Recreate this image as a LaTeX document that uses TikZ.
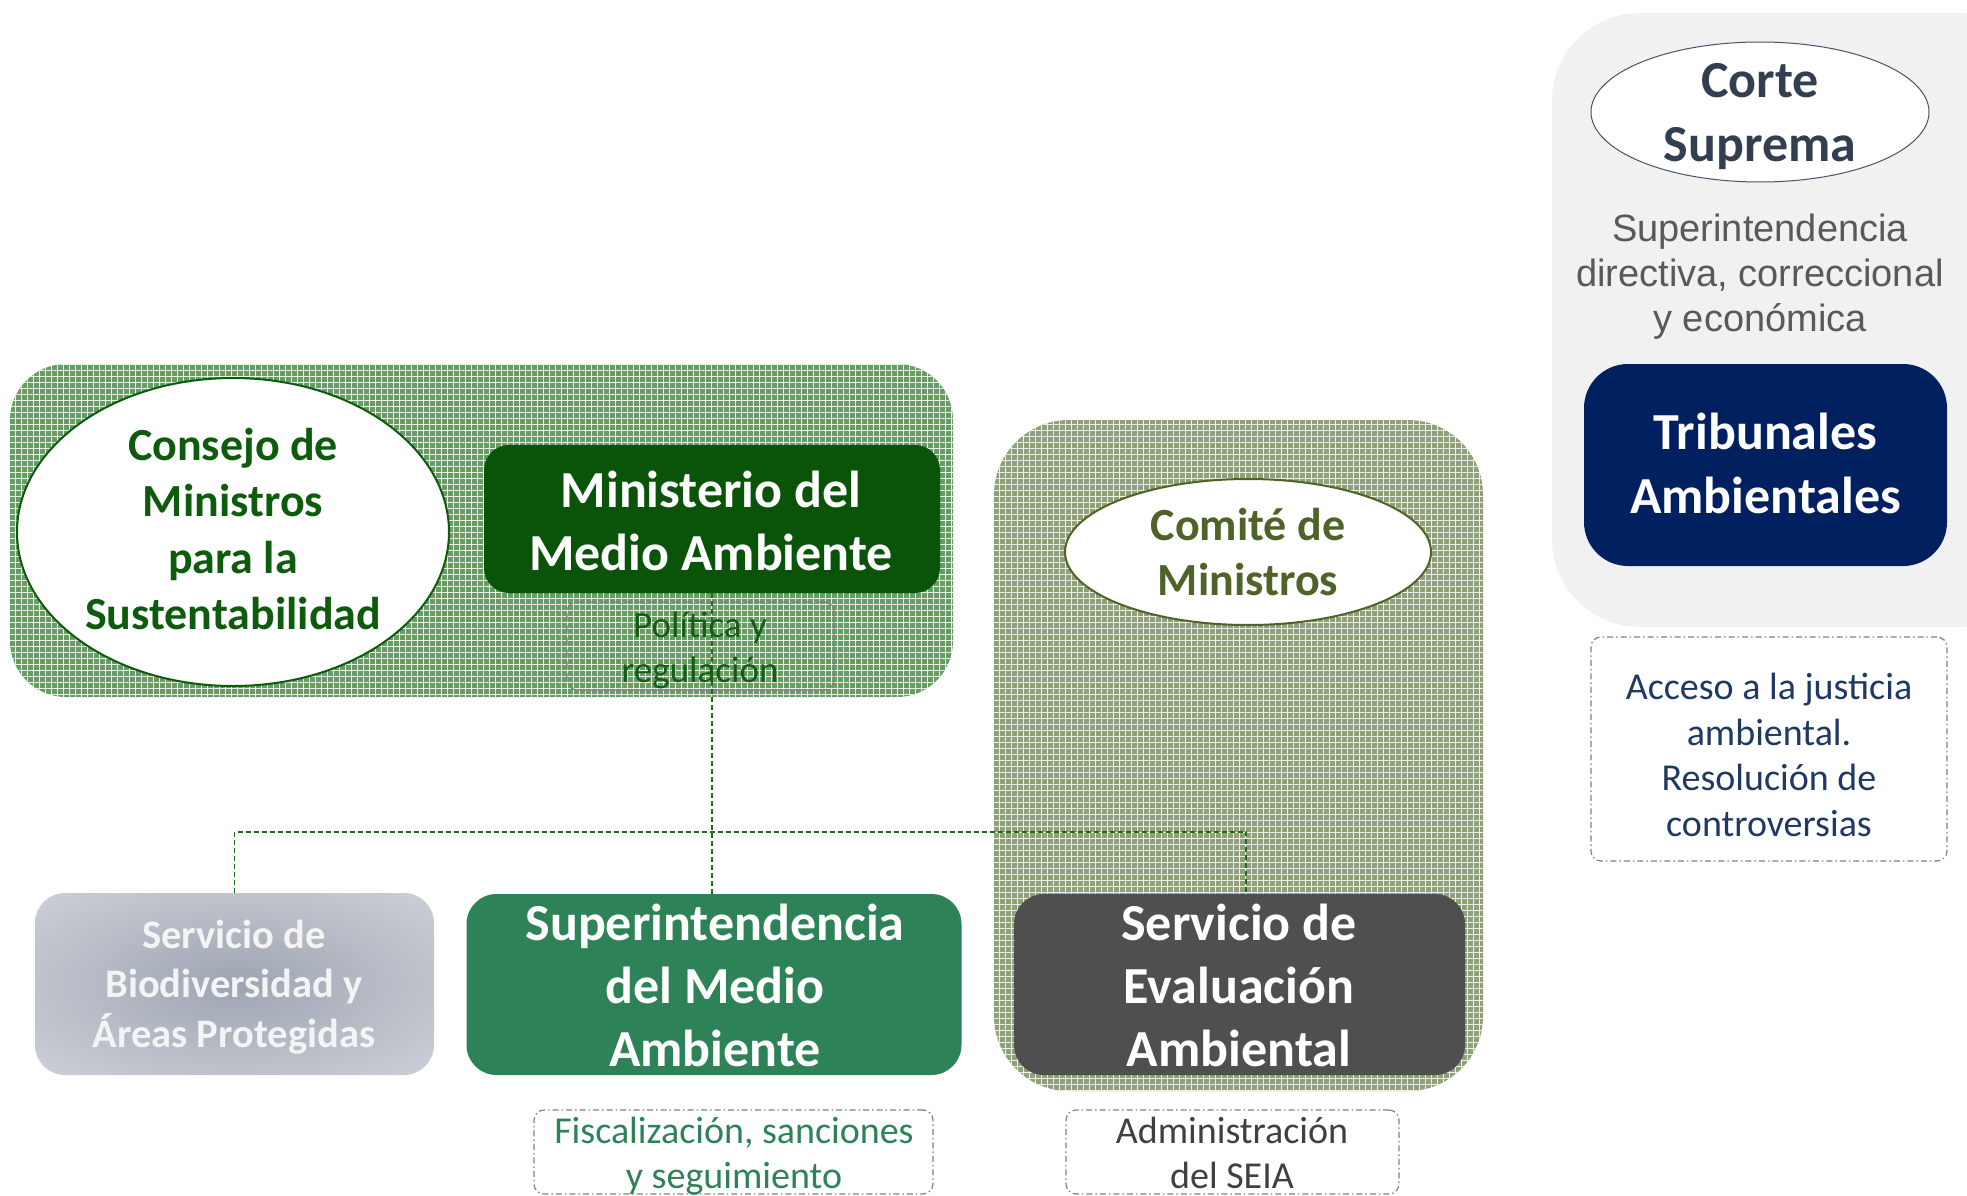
\documentclass[tikz,border=0pt]{standalone}
\usepackage{fontspec}
\setmainfont{Carlito}
\newfontfamily\arialf{Liberation Sans}
\usetikzlibrary{shapes.geometric,patterns.meta}
\definecolor{greenbase}{HTML}{679C67}
\definecolor{olivebase}{HTML}{8FA07B}
\definecolor{cortebg}{HTML}{F1F1F1}
\definecolor{consejoc}{HTML}{0D5C0D}
\definecolor{mingreen}{HTML}{0A540A}
\definecolor{polgreen}{HTML}{125E12}
\definecolor{olivec}{HTML}{4F6228}
\definecolor{cortec}{HTML}{333F50}
\definecolor{corteline}{HTML}{44546A}
\definecolor{greyc}{HTML}{595959}
\definecolor{navy}{HTML}{002060}
\definecolor{accesoc}{HTML}{1F3864}
\definecolor{smagreen}{HTML}{2E8257}
\definecolor{seagrey}{HTML}{4F4F4F}
\definecolor{admc}{HTML}{404040}
\definecolor{bioin}{HTML}{9EA5B2}
\definecolor{bioout}{HTML}{E0E1E6}
\definecolor{biotext}{HTML}{F4F4F4}
\definecolor{connc}{HTML}{1E6B1E}
\definecolor{dashc}{HTML}{7F7F7F}
\newcommand\fsz[2]{\fontsize{#1}{#2}\selectfont}
\pgfdeclareradialshading{bioshade}{\pgfpoint{0bp}{0bp}}{color(0bp)=(bioin); color(50bp)=(bioout); color(72bp)=(bioout)}
\tikzdeclarepattern{
  name=tartan,
  type=uncolored,
  bounding box={(-.1pt,-.1pt) and (6.1pt,6.1pt)},
  tile size={(6pt,6pt)},
  code={
    \draw[line width=1pt] (0pt,3pt) -- (6pt,3pt) (3pt,0pt) -- (3pt,6pt);
  }
}
\begin{document}
\begin{tikzpicture}[x=1pt,y=-1pt,
  panel/.style={rectangle, draw=none, inner sep=0pt},
  ell/.style={ellipse, fill=white, inner sep=0pt},
  boxn/.style={rectangle, draw=none, inner sep=0pt, rounded corners=30pt},
  txt/.style={align=center, inner sep=0pt},
  dbox/.style={rectangle, draw=dashc, line width=1.2pt, dash pattern=on 6pt off 3pt on 1.5pt off 3pt, rounded corners=10pt, inner sep=0pt},
  conn/.style={draw=connc, line width=1.6pt, dash pattern=on 5pt off 3pt}
]
\useasboundingbox (0,0) rectangle (1967,1196);
\clip (0,0) rectangle (1967,1196);

% panels
\node[panel, rounded corners=56pt, preaction={fill=greenbase}, pattern=tartan, pattern color=white!85!greenbase,
  minimum width=943pt, minimum height=333pt] (minpanel) at (481.5,530.5) {};
\node[panel, rounded corners=75pt, preaction={fill=olivebase}, pattern=tartan, pattern color=white!85!olivebase,
  minimum width=489pt, minimum height=671pt] (seapanel) at (1238.5,755.5) {};
\node[panel, rounded corners=88pt, fill=cortebg,
  minimum width=498pt, minimum height=614pt] (cortepanel) at (1801,320) {};

% boxes
\node[boxn, rounded corners=25pt, fill=mingreen, minimum width=456pt, minimum height=148pt] (min) at (712,519) {};
\node[boxn, shading=bioshade, minimum width=399pt, minimum height=182pt] (bio) at (234.5,984) {};
\node[boxn, fill=smagreen, minimum width=495pt, minimum height=181pt] (sma) at (714,984.5) {};
\node[boxn, fill=seagrey, minimum width=451pt, minimum height=181pt] (sea) at (1239.5,984.5) {};

\node[dbox, dash pattern=on 8pt off 4pt, minimum width=267pt, minimum height=88pt] (pol) at (700.5,646) {};
% connectors
\draw[conn] (min.south) -- (min.south |- sma.north);
\draw[conn] (bio.north) -- ++(0,-61) -| ([xshift=6.5pt]sea.north);

% Consejo
\node[ell, draw=consejoc, line width=2pt, minimum width=432pt, minimum height=308pt] (consejo) at (233,532) {};
\node[txt, text=consejoc, font=\bfseries\fsz{46}{56.5}] (consejoT) at (233,529) {Consejo de\\Ministros\\para la\\Sustentabilidad};

% Ministerio
\node[txt, text=white, font=\bfseries\fsz{52}{63}] (minT) at (711,521) {Ministerio del\\Medio Ambiente};
\node[txt, text=polgreen, font=\fsz{37}{45}] (polT) at (700,650) {Política y\\regulación};

% Comite
\node[ell, draw=olivec, line width=2pt, minimum width=366pt, minimum height=146pt] (comite) at (1248,552) {};
\node[txt, text=olivec, font=\bfseries\fsz{46}{55}] (comiteT) at (comite.center) {Comité de\\Ministros};

% Corte
\node[ell, draw=corteline, line width=1pt, minimum width=338pt, minimum height=140pt] (corte) at (1760,112) {};
\node[txt, text=cortec, font=\bfseries\fsz{52}{64}] (corteT) at (1760,117) {Corte\\Suprema};
\node[txt, text=greyc, font=\arialf\fsz{38}{45}] (superT) at (1760,277) {Superintendencia\\directiva, correccional\\y económica};

% Tribunales
\node[boxn, rounded corners=44pt, fill=navy, minimum width=363pt, minimum height=202pt] (trib) at (1765.5,465) {};
\node[txt, text=white, font=\bfseries\fsz{52}{64}] (tribT) at (1765.5,463) {Tribunales\\Ambientales};
\node[dbox, minimum width=356pt, minimum height=224pt] (acc) at (1769,749) {};
\node[txt, text=accesoc, font=\fsz{38}{45.5}] (accT) at (1769,755) {Acceso a la justicia\\ambiental.\\Resolución de\\controversias};

% bottom row texts
\node[txt, text=biotext, font=\bfseries\fsz{40.5}{49.5}] (bioT) at (234,987) {Servicio de\\Biodiversidad y\\Áreas Protegidas};
\node[txt, text=white, font=\bfseries\fsz{52}{63}] (smaT) at (715,985) {Superintendencia\\del Medio\\Ambiente};
\node[txt, text=white, font=\bfseries\fsz{52}{63}] (seaT) at (1239,985) {Servicio de\\Evaluación\\Ambiental};

\node[dbox, minimum width=399pt, minimum height=84pt] (fis) at (733.5,1152) {};
\node[txt, text=smagreen, font=\fsz{38}{45}] (fisT) at (734,1156) {Fiscalización, sanciones\\y seguimiento};
\node[dbox, minimum width=333pt, minimum height=84pt] (adm) at (1232.5,1152) {};
\node[txt, text=admc, font=\fsz{38}{45}] (admT) at (1232,1153) {Administración\\del SEIA};
\end{tikzpicture}
\end{document}
